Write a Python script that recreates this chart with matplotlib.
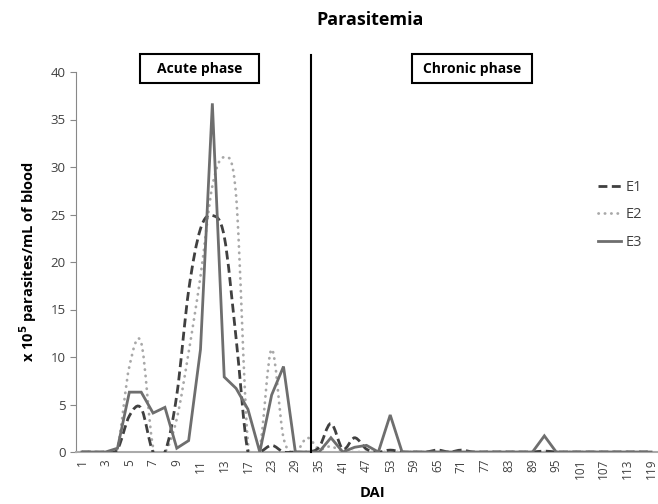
import numpy as np
import matplotlib
matplotlib.use("Agg")
import matplotlib.pyplot as plt
from matplotlib.path import Path
from matplotlib.patches import PathPatch, Rectangle
from matplotlib.lines import Line2D

plt.rcParams['font.family'] = ['Open Sans', 'DejaVu Sans']

# days after infection (categories of the x axis)
days = list(range(1, 14)) + [15] + list(range(17, 120, 3))

# parasitemia, x 10^5 parasites/mL
e1 = [0, 0, 0, 0.3, 3.8, 4.6, 0, 0, 6.0, 17.0, 23.5, 24.9, 22.7, 12.0, 0, 0,
      0.7, 0, 0, 0, 0.5, 3.0, 0.3, 1.5, 0.3, 0, 0.2, 0, 0, 0, 0.2, 0, 0.2, 0,
      0, 0, 0, 0, 0, 0.1, 0, 0, 0, 0, 0, 0, 0, 0, 0]
e2 = [0, 0, 0, 0.5, 9.0, 11.5, 0.5, 0, 3.5, 10.5, 18.5, 28.0, 31.0, 27.0, 1.0,
      0.5, 10.8, 1.5, 0, 1.5, 0.3, 0.6, 0, 0, 0, 0, 0, 0, 0, 0, 0, 0, 0, 0,
      0, 0, 0, 0, 0, 0, 0, 0, 0, 0, 0, 0, 0, 0, 0]
e3 = [0, 0, 0, 0.4, 6.3, 6.3, 4.1, 4.7, 0.4, 1.2, 10.8, 36.7, 7.9, 6.7, 4.5, 0,
      6.0, 9.0, 0, 0, 0, 1.5, 0, 0.5, 0.7, 0, 3.9, 0, 0, 0, 0, 0, 0, 0, 0, 0,
      0, 0, 0, 1.7, 0, 0, 0, 0, 0, 0, 0, 0, 0]

series_names = ['E1', 'E2', 'E3']
phase_names = ['Acute phase', 'Chronic phase']


def smooth_path(xs, ys):
    # bezier through the points, like the "smoothed line" option of a spreadsheet
    n = len(xs)
    verts = [(xs[0], ys[0])]
    codes = [Path.MOVETO]
    for i in range(n - 1):
        a = i - 1 if i > 0 else i
        d = i + 2 if i + 2 < n else i + 1
        c1 = (xs[i] + (xs[i + 1] - xs[a]) / 6.0, ys[i] + (ys[i + 1] - ys[a]) / 6.0)
        c2 = (xs[i + 1] - (xs[d] - xs[i]) / 6.0, ys[i + 1] - (ys[d] - ys[i]) / 6.0)
        verts += [c1, c2, (xs[i + 1], ys[i + 1])]
        codes += [Path.CURVE4] * 3
    return Path(verts, codes)


fig = plt.figure(figsize=(6.58, 5.04), dpi=100)
ax = fig.add_axes([76 / 658, 52 / 504, 581 / 658, 380 / 504])

xs = np.arange(len(days))

c1 = '#404040'
c2 = '#a8a8a8'
c3 = '#6e6e6e'
dash1 = (0, (3.2, 1.6))
dot2 = (0, (0.1, 2.2))

p1 = PathPatch(smooth_path(xs, e1), fill=False, edgecolor=c1, lw=2.0,
               linestyle=dash1, capstyle='butt', zorder=3)
p2 = PathPatch(smooth_path(xs, e2), fill=False, edgecolor=c2, lw=2.0,
               linestyle=dot2, capstyle='round', zorder=2)
ax.add_patch(p1)
ax.add_patch(p2)
ax.plot(xs, e3, color=c3, lw=2.0, solid_joinstyle='miter', zorder=4)

# phase separator
ax.axvline(19.35, ymin=0, ymax=1.045, color='black', lw=1.5, clip_on=False, zorder=5)

ax.set_xlim(-0.5, len(days) - 0.5)
ax.set_ylim(0, 40)
ax.set_yticks(np.arange(0, 41, 5))
ax.set_xticks(xs[::2])
ax.set_xticklabels([str(d) for d in days[::2]], rotation=90, fontsize=8.5, color='#404040')
ax.tick_params(axis='y', labelsize=9.5, labelcolor='#404040', direction='out',
               length=4, color='#888888')
ax.tick_params(axis='x', length=0, pad=5)
for s in ['top', 'right']:
    ax.spines[s].set_visible(False)
ax.spines['left'].set_color('#888888')
ax.spines['bottom'].set_color('#aaaaaa')
ax.spines['bottom'].set_linewidth(1.5)

ax.set_ylabel('x 10$^{\\mathbf{5}}$ parasites/mL of blood', fontsize=10.5,
              fontweight='bold', labelpad=8)
fig.text(372 / 658, 1 - 493 / 504, 'DAI', ha='center', va='center',
         fontsize=10.5, fontweight='bold')
fig.text(370 / 658, 1 - 20 / 504, 'Parasitemia', ha='center', va='center',
         fontsize=13, fontweight='bold')

# phase labels in boxes
boxes = [(140, 54, 119, 29), (412, 54, 120, 29)]
for name, (bx, by, bw, bh) in zip(phase_names, boxes):
    fig.patches.append(Rectangle((bx / 658, 1 - (by + bh) / 504), bw / 658, bh / 504,
                                 transform=fig.transFigure, fill=False,
                                 edgecolor='black', lw=1.5))
    fig.text((bx + bw / 2) / 658, 1 - (by + bh / 2) / 504, name, ha='center',
             va='center', fontsize=10, fontweight='bold')

handles = [Line2D([], [], color=c1, lw=2.0, linestyle=dash1),
           Line2D([], [], color=c2, lw=2.0, linestyle=dot2, dash_capstyle='round'),
           Line2D([], [], color=c3, lw=2.0)]
ax.legend(handles, series_names, loc='center left', bbox_to_anchor=(0.875, 0.624),
          frameon=False, fontsize=10.5, handlelength=1.6, handletextpad=0.3,
          labelspacing=0.85, labelcolor='#404040')

fig.savefig('out.png', dpi=100)
